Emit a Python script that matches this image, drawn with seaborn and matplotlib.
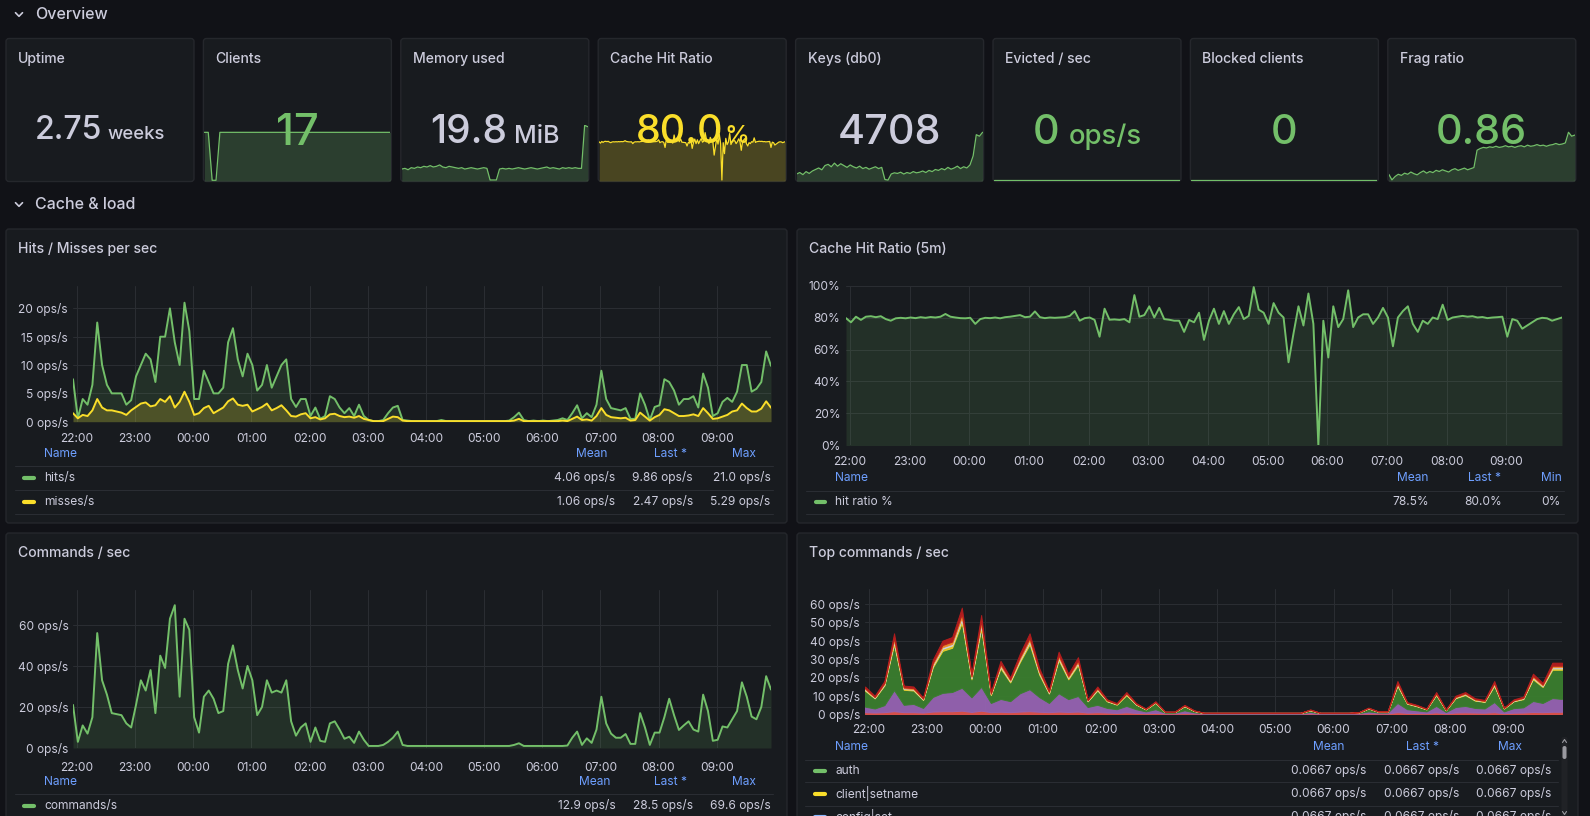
import numpy as np
import pandas as pd
import matplotlib
matplotlib.use("Agg")
import matplotlib.pyplot as plt
import matplotlib.dates as mdates
from matplotlib.patches import FancyBboxPatch
import seaborn as sns

# ---------------------------------------------------------------- data
# 5-minute samples, 21:56 -> 09:56
HITS = [
    7.5, 0.6, 4.0, 3.0, 6.5, 17.5, 10.0, 6.5, 5.0, 5.0,
    5.0, 3.0, 3.8, 8.0, 10.0, 12.0, 11.0, 7.0, 15.0, 15.0,
    20.0, 14.0, 10.0, 21.0, 16.0, 4.0, 4.0, 9.0, 7.0, 5.0,
    5.0, 6.0, 14.0, 16.5, 11.0, 8.0, 12.0, 10.0, 5.5, 6.5,
    10.0, 6.0, 8.0, 10.0, 11.0, 4.0, 2.6, 4.0, 4.0, 1.0,
    2.5, 0.5, 1.0, 4.5, 4.0, 2.5, 1.5, 2.4, 1.0, 3.0,
    1.0, 0.3, 0.1, 0.1, 0.3, 1.5, 2.5, 2.8, 0.3, 0.2,
    0.1, 0.1, 0.1, 0.1, 0.1, 0.1, 0.3, 0.1, 0.1, 0.1,
    0.1, 0.1, 0.1, 0.1, 0.1, 0.1, 0.1, 0.1, 0.1, 0.1,
    0.2, 0.8, 1.6, 0.3, 0.1, 0.2, 0.1, 0.2, 0.1, 0.2,
    0.3, 0.6, 0.3, 1.5, 2.9, 0.6, 1.5, 0.8, 3.0, 9.0,
    4.0, 2.4, 2.2, 2.0, 2.4, 0.5, 0.5, 5.0, 3.0, 0.3,
    2.6, 2.9, 7.5, 7.0, 5.5, 3.0, 4.0, 4.0, 4.5, 2.5,
    8.5, 6.0, 1.0, 1.5, 3.5, 4.2, 3.5, 5.3, 10.0, 10.0,
    5.3, 5.8, 7.0, 12.4, 9.86]
MISSES = [
    1.5, 0.6, 1.2, 1.0, 2.0, 4.0, 2.5, 2.0, 2.0, 1.8,
    1.6, 1.2, 2.0, 2.6, 3.2, 3.4, 2.7, 2.9, 4.0, 3.5,
    4.5, 2.5, 3.5, 5.29, 3.5, 1.2, 1.5, 2.4, 2.8, 1.5,
    2.0, 2.5, 3.6, 4.1, 3.0, 2.8, 3.0, 1.8, 2.2, 2.6,
    3.2, 2.0, 2.4, 2.9, 2.0, 1.0, 0.9, 1.3, 1.5, 0.6,
    0.8, 0.4, 0.6, 1.3, 1.4, 1.0, 0.8, 0.9, 0.7, 1.0,
    0.5, 0.3, 0.1, 0.1, 0.1, 0.5, 0.9, 0.8, 0.2, 0.1,
    0.1, 0.1, 0.1, 0.1, 0.1, 0.1, 0.1, 0.1, 0.1, 0.1,
    0.1, 0.1, 0.1, 0.1, 0.1, 0.1, 0.1, 0.1, 0.1, 0.1,
    0.1, 0.2, 0.5, 0.1, 0.1, 0.1, 0.1, 0.1, 0.1, 0.1,
    0.1, 0.2, 0.1, 0.5, 0.9, 0.3, 0.4, 0.2, 1.0, 2.4,
    1.2, 0.8, 0.7, 0.6, 0.7, 0.2, 0.3, 1.6, 0.9, 0.2,
    0.8, 1.2, 2.2, 2.0, 1.5, 1.0, 1.0, 1.1, 1.3, 1.0,
    2.4, 1.5, 0.5, 0.6, 0.9, 1.2, 1.8, 2.0, 3.2, 2.4,
    1.8, 1.8, 2.3, 3.6, 2.47]
HIT_RATIO = [
    79.6, 77.0, 80.5, 78.5, 80.5, 80.8, 80.2, 80.8, 79.0, 78.0,
    79.5, 79.8, 79.5, 80.0, 79.6, 80.2, 79.8, 80.3, 80.0, 80.5,
    82.2, 80.5, 80.0, 79.6, 79.5, 79.8, 76.0, 79.0, 79.8, 79.6,
    80.0, 79.5, 80.2, 80.5, 81.0, 81.5, 80.2, 80.5, 83.8, 80.2,
    79.6, 80.0, 79.8, 80.0, 80.2, 81.0, 84.0, 78.0, 79.6, 80.0,
    78.5, 68.0, 85.5, 78.6, 78.8, 78.5, 79.0, 77.0, 94.0, 80.5,
    81.5, 87.0, 80.0, 86.0, 79.0, 78.6, 78.0, 78.0, 71.0, 78.5,
    77.0, 83.0, 66.0, 78.0, 85.5, 76.0, 84.0, 76.0, 82.0, 86.5,
    79.0, 81.0, 99.0, 84.9, 83.0, 76.0, 89.0, 83.0, 80.0, 52.0,
    70.0, 87.0, 75.0, 95.0, 76.0, 0.0, 78.0, 55.0, 87.0, 74.0,
    79.0, 97.0, 74.0, 80.0, 82.0, 82.0, 76.0, 80.0, 86.0, 80.0,
    62.0, 80.0, 84.0, 87.0, 76.0, 71.0, 78.0, 76.0, 80.0, 79.0,
    88.0, 78.5, 80.0, 80.5, 81.0, 80.5, 80.8, 80.0, 80.3, 79.6,
    80.0, 80.2, 80.5, 68.0, 79.0, 78.0, 73.0, 75.0, 77.0, 79.0,
    79.8, 79.5, 78.0, 79.0, 80.0]
COMMANDS = [
    21.0, 3.0, 11.0, 7.0, 15.0, 56.0, 33.0, 26.0, 17.0, 16.5,
    16.0, 12.0, 10.0, 21.0, 33.0, 28.0, 38.0, 17.0, 45.0, 39.0,
    63.0, 69.6, 25.0, 63.0, 57.6, 15.0, 7.5, 25.0, 28.0, 24.0,
    17.0, 18.0, 41.0, 50.0, 38.0, 29.0, 40.0, 33.0, 16.0, 20.0,
    33.0, 27.0, 28.0, 27.0, 33.0, 13.0, 6.0, 10.0, 12.0, 3.0,
    10.0, 3.5, 3.0, 12.0, 13.0, 9.0, 4.5, 5.5, 2.5, 8.0,
    4.0, 1.0, 1.0, 1.0, 1.5, 3.0, 5.0, 8.0, 1.5, 1.0,
    1.0, 1.0, 1.0, 1.0, 1.0, 1.0, 1.0, 1.0, 1.0, 1.0,
    1.0, 1.0, 1.0, 1.0, 1.0, 1.0, 1.0, 1.0, 1.0, 1.0,
    1.0, 1.5, 2.3, 1.0, 1.0, 1.0, 1.0, 1.0, 1.0, 1.0,
    1.0, 1.0, 1.2, 5.0, 8.0, 1.5, 4.7, 2.5, 9.0, 25.0,
    12.0, 7.0, 5.0, 5.0, 6.8, 2.0, 2.0, 17.0, 10.0, 1.5,
    7.5, 7.5, 15.0, 24.0, 16.0, 8.8, 11.0, 13.0, 9.0, 8.0,
    26.0, 18.0, 3.5, 4.0, 10.5, 10.0, 14.0, 18.0, 32.0, 25.0,
    15.3, 14.0, 20.0, 35.0, 28.5]

# 10-minute samples of the stacked "Top commands" layers (bottom -> top)
TOP_BASE = [
    1.0, 0.8, 1.0, 1.5, 1.0, 1.0, 0.8, 1.3, 1.5, 1.5,
    1.8, 1.1, 1.8, 1.0, 1.2, 1.0, 1.3, 1.5, 1.2, 1.0,
    1.3, 1.1, 1.3, 0.8, 1.0, 0.8, 0.6, 0.9, 0.6, 0.4,
    0.6, 0.3, 0.3, 0.5, 0.3, 0.2, 0.2, 0.2, 0.2, 0.2,
    0.2, 0.2, 0.2, 0.2, 0.2, 0.2, 0.3, 0.2, 0.2, 0.2,
    0.2, 0.2, 0.4, 0.3, 0.3, 1.0, 0.6, 0.5, 0.4, 0.9,
    0.3, 0.8, 0.9, 0.8, 0.7, 1.0, 0.4, 0.7, 0.8, 1.1,
    1.0, 1.2, 1.2]
TOP_PURPLE = [
    3.0, 2.2, 3.8, 11.5, 4.0, 4.5, 2.5, 8.0, 10.0, 10.5,
    12.5, 8.0, 13.0, 5.0, 7.0, 6.0, 10.0, 12.0, 8.0, 5.0,
    10.0, 7.0, 8.5, 3.0, 4.0, 2.5, 2.0, 3.5, 2.0, 1.0,
    2.0, 0.4, 0.4, 1.5, 0.6, 0.2, 0.2, 0.2, 0.2, 0.2,
    0.2, 0.2, 0.2, 0.2, 0.2, 0.2, 0.8, 0.2, 0.2, 0.2,
    0.2, 0.3, 1.0, 0.5, 0.5, 5.0, 2.0, 1.5, 1.0, 3.5,
    0.8, 3.0, 3.5, 2.5, 2.3, 5.5, 1.0, 2.5, 2.8, 6.0,
    5.0, 7.5, 7.0]
TOP_GREEN = [
    8.7, 5.5, 10.7, 24.9, 8.2, 7.3, 4.3, 16.1, 22.9, 24.1,
    35.4, 9.8, 31.7, 4.3, 16.7, 10.2, 17.0, 24.4, 12.2, 5.1,
    18.0, 10.8, 16.9, 3.1, 7.8, 3.6, 2.5, 5.9, 2.5, 1.1,
    3.5, 0.35, 0.35, 2.2, 0.7, 0.15, 0.15, 0.15, 0.15, 0.15,
    0.15, 0.15, 0.15, 0.15, 0.15, 0.15, 0.9, 0.15, 0.15, 0.15,
    0.15, 0.25, 1.6, 0.45, 0.45, 9.3, 3.0, 2.2, 1.1, 5.9,
    0.9, 4.8, 5.9, 4.0, 3.6, 8.8, 1.6, 3.7, 4.5, 11.8,
    8.7, 15.4, 15.9]
TOP_YELLOW = [
    0.5, 0.3, 0.5, 1.3, 0.5, 0.5, 0.3, 0.9, 1.2, 1.3,
    1.8, 0.7, 1.6, 0.4, 0.9, 0.6, 1.0, 1.3, 0.8, 0.4,
    1.0, 0.7, 0.9, 0.2, 0.5, 0.2, 0.2, 0.4, 0.2, 0.1,
    0.2, 0.05, 0.05, 0.2, 0.1, 0.03, 0.03, 0.03, 0.03, 0.03,
    0.03, 0.03, 0.03, 0.03, 0.03, 0.03, 0.1, 0.03, 0.03, 0.03,
    0.03, 0.05, 0.1, 0.05, 0.05, 0.6, 0.2, 0.2, 0.1, 0.4,
    0.1, 0.3, 0.4, 0.3, 0.2, 0.6, 0.1, 0.2, 0.3, 0.7,
    0.5, 0.8, 0.8]
TOP_BLUE = [
    0.3, 0.2, 0.4, 0.9, 0.3, 0.3, 0.2, 0.6, 0.8, 0.8,
    1.2, 0.4, 1.1, 0.2, 0.6, 0.4, 0.7, 0.9, 0.5, 0.3,
    0.7, 0.4, 0.6, 0.2, 0.3, 0.2, 0.1, 0.2, 0.1, 0.1,
    0.1, 0.05, 0.05, 0.1, 0.05, 0.03, 0.03, 0.03, 0.03, 0.03,
    0.03, 0.03, 0.03, 0.03, 0.03, 0.03, 0.1, 0.03, 0.03, 0.03,
    0.03, 0.05, 0.1, 0.05, 0.05, 0.4, 0.1, 0.1, 0.1, 0.2,
    0.1, 0.2, 0.2, 0.2, 0.2, 0.4, 0.1, 0.2, 0.2, 0.4,
    0.3, 0.6, 0.6]
TOP_ORANGE = [
    0.5, 0.3, 0.5, 1.3, 0.5, 0.5, 0.3, 0.9, 1.2, 1.3,
    1.8, 0.7, 1.6, 0.4, 0.9, 0.6, 1.0, 1.3, 0.8, 0.4,
    1.0, 0.7, 0.9, 0.2, 0.5, 0.2, 0.2, 0.4, 0.2, 0.1,
    0.2, 0.05, 0.05, 0.2, 0.1, 0.03, 0.03, 0.03, 0.03, 0.03,
    0.03, 0.03, 0.03, 0.03, 0.03, 0.03, 0.1, 0.03, 0.03, 0.03,
    0.03, 0.05, 0.1, 0.05, 0.05, 0.6, 0.2, 0.2, 0.1, 0.4,
    0.1, 0.3, 0.4, 0.3, 0.2, 0.6, 0.1, 0.2, 0.3, 0.7,
    0.5, 0.8, 0.8]
TOP_RED = [
    1.0, 0.7, 1.1, 2.6, 1.0, 0.9, 0.6, 1.8, 2.4, 2.5,
    3.5, 1.3, 3.2, 0.7, 1.7, 1.2, 2.0, 2.6, 1.5, 0.8,
    2.0, 1.3, 1.9, 0.5, 0.9, 0.5, 0.4, 0.7, 0.4, 0.2,
    0.4, 0.1, 0.1, 0.3, 0.15, 0.06, 0.06, 0.06, 0.06, 0.06,
    0.06, 0.06, 0.06, 0.06, 0.06, 0.06, 0.2, 0.06, 0.06, 0.06,
    0.06, 0.1, 0.2, 0.1, 0.1, 1.1, 0.4, 0.3, 0.2, 0.7,
    0.2, 0.6, 0.7, 0.5, 0.5, 1.1, 0.2, 0.5, 0.6, 1.3,
    1.0, 1.7, 1.7]

# stat panels
STAT_TITLES = ["Uptime", "Clients", "Memory used", "Cache Hit Ratio",
               "Keys (db0)", "Evicted / sec", "Blocked clients", "Frag ratio"]
STAT_VALUES = ["2.75", "17", "19.8", "80.0", "4708", "0", "0", "0.86"]
STAT_UNITS = ["weeks", "", "MiB", "%", "", "ops/s", "", ""]

CLIENTS_SPARK = [17, 17, 0, 0, 17, 17, 17, 17, 17, 17, 17, 17, 17, 17, 17, 17, 17,
                 17, 17, 17, 17, 17, 17, 17, 17, 17, 17, 17, 17, 17, 17, 17, 17,
                 17, 17, 17, 17, 17, 17, 17, 17, 17, 17, 17, 17, 17, 17, 17, 17]
MEMORY_SPARK = [19.16, 19.17, 19.15, 19.18, 19.17, 19.19, 19.18, 19.20, 19.19, 19.21,
                19.19, 19.20, 19.22, 19.19, 19.18, 19.20, 19.19, 19.18, 19.17, 19.18,
                19.16, 19.17, 19.18, 19.17, 19.16, 19.17, 19.18, 19.17, 19.00, 19.00,
                19.00, 19.16, 19.17, 19.16, 19.17, 19.16, 19.17, 19.18, 19.17, 19.16,
                19.17, 19.18, 19.17, 19.16, 19.17, 19.18, 19.19, 19.17, 19.18, 19.17,
                19.16, 19.18, 19.17, 19.18, 19.17, 19.18, 19.17, 19.17, 19.80, 19.78]
KEYS_SPARK = [4570, 4575, 4568, 4578, 4572, 4580, 4585, 4590, 4584, 4598,
              4602, 4594, 4606, 4596, 4604, 4598, 4592, 4600, 4594, 4590,
              4596, 4588, 4592, 4586, 4590, 4594, 4588, 4592, 4552, 4550,
              4570, 4574, 4572, 4576, 4570, 4575, 4572, 4578, 4574, 4576,
              4580, 4575, 4582, 4578, 4585, 4582, 4588, 4584, 4592, 4586,
              4590, 4596, 4588, 4594, 4590, 4600, 4630, 4700, 4695, 4708]
EVICTED_SPARK = [0, 0, 0, 0, 0, 0, 0, 0, 0, 0, 0, 0]
BLOCKED_SPARK = [0, 0, 0, 0, 0, 0, 0, 0, 0, 0, 0, 0]
FRAG_SPARK = [0.790, 0.780, 0.786, 0.790, 0.788, 0.792, 0.790, 0.794, 0.791, 0.789,
              0.793, 0.796, 0.792, 0.795, 0.793, 0.797, 0.795, 0.798, 0.796, 0.794,
              0.798, 0.800, 0.797, 0.799, 0.801, 0.798, 0.800, 0.802, 0.833, 0.836,
              0.838, 0.837, 0.839, 0.838, 0.840, 0.838, 0.839, 0.841, 0.839, 0.840,
              0.838, 0.840, 0.841, 0.839, 0.842, 0.840, 0.841, 0.843, 0.841, 0.842,
              0.840, 0.842, 0.843, 0.845, 0.843, 0.844, 0.846, 0.865, 0.858, 0.860]

# legend tables
HITS_LEG_NAMES = ["hits/s", "misses/s"]
HITS_LEG_MEAN = ["4.06 ops/s", "1.06 ops/s"]
HITS_LEG_LAST = ["9.86 ops/s", "2.47 ops/s"]
HITS_LEG_MAX = ["21.0 ops/s", "5.29 ops/s"]
RATIO_LEG = ["hit ratio %", "78.5%", "80.0%", "0%"]
CMD_LEG = ["commands/s", "12.9 ops/s", "28.5 ops/s", "69.6 ops/s"]
TOP_LEG_NAMES = ["auth", "client|setname", "config|set"]
TOP_LEG_MEAN = ["0.0667 ops/s", "0.0667 ops/s", "0.0667 ops/s"]
TOP_LEG_LAST = ["0.0667 ops/s", "0.0667 ops/s", "0.0667 ops/s"]
TOP_LEG_MAX = ["0.0667 ops/s", "0.0667 ops/s", "0.0667 ops/s"]

# ---------------------------------------------------------------- style
W, H = 1590, 816
BG = "#111217"
PANEL = "#181b1f"
BORDER = "#25272c"
TEXT = "#ccccdc"
GRID = "#2a2d32"
BLUE = "#6e9fff"
GREEN = "#73bf69"
YELLOW = "#fade2a"

sns.set_theme(style="dark")
plt.rcParams["font.family"] = ["Inter", "DejaVu Sans"]
plt.rcParams["axes.unicode_minus"] = False

t_start = pd.Timestamp("2024-01-01 21:56")
t_end = pd.Timestamp("2024-01-02 09:56")
T5 = mdates.date2num(pd.date_range(t_start, periods=len(HITS), freq="5min").to_pydatetime())
T10 = mdates.date2num(pd.date_range(t_start, periods=len(TOP_GREEN), freq="10min").to_pydatetime())
XLIM = (mdates.date2num(t_start.to_pydatetime()), mdates.date2num(t_end.to_pydatetime()))

fig = plt.figure(figsize=(W / 100, H / 100), dpi=100, facecolor=BG)
bg = fig.add_axes([0, 0, 1, 1])
bg.set_xlim(0, W); bg.set_ylim(H, 0); bg.axis("off")


def panel(x0, y0, x1, y1):
    bg.add_patch(FancyBboxPatch((x0, y0), x1 - x0, y1 - y0,
                                boxstyle="round,pad=0,rounding_size=3",
                                fc=PANEL, ec=BORDER, lw=1.0))


def px_axes(l, t, r, b):
    return fig.add_axes([l / W, 1 - b / H, (r - l) / W, (b - t) / H])


def style_ts(ax, ylim, yticks, ylabels, ypad, xpad):
    ax.set_facecolor("none")
    ax.set_xlim(*XLIM)
    ax.set_ylim(*ylim)
    ax.xaxis.set_major_locator(mdates.HourLocator())
    ax.xaxis.set_major_formatter(mdates.DateFormatter("%H:%M"))
    ax.set_yticks(yticks)
    ax.set_yticklabels(ylabels)
    ax.grid(True, color=GRID, linewidth=0.75)
    ax.set_axisbelow(True)
    for s in ax.spines.values():
        s.set_visible(False)
    ax.tick_params(axis="both", length=0, colors=TEXT, labelsize=8.6)
    ax.tick_params(axis="y", pad=ypad)
    ax.tick_params(axis="x", pad=xpad)
    ax.set_xlabel("")
    ax.set_ylabel("")


# ---------------------------------------------------------------- panels
STAT_L = [6 + 197.4 * k for k in range(8)]
for x0 in STAT_L:
    panel(x0, 38.5, x0 + 188, 181.5)
panel(6, 229, 787, 523)
panel(797, 229, 1578, 523)
panel(6, 533, 787, 840)
panel(797, 533, 1578, 840)

# ---------------------------------------------------------------- stat sparklines
SPARKS = [None, CLIENTS_SPARK, MEMORY_SPARK, HIT_RATIO, KEYS_SPARK,
          EVICTED_SPARK, BLOCKED_SPARK, FRAG_SPARK]
SPARK_COL = [None, GREEN, GREEN, YELLOW, GREEN, GREEN, GREEN, GREEN]
SPARK_LIM = [None, (-0.25, 19.6), (18.985, 19.805), (-2.1, 114.9), (4547, 4732),
             (-0.02, 1.0), (-0.02, 1.0), (0.778, 0.878)]
for k in range(1, 8):
    x0 = STAT_L[k]
    sax = px_axes(x0 + 1, 125, x0 + 187, 181)
    vals = np.array(SPARKS[k], dtype=float)
    xs = np.arange(len(vals))
    sns.lineplot(x=xs, y=vals, ax=sax, color=SPARK_COL[k], linewidth=0.9)
    sax.fill_between(xs, vals, SPARK_LIM[k][0], color=SPARK_COL[k], alpha=0.22, lw=0)
    sax.set_xlim(0, len(vals) - 1)
    sax.set_ylim(*SPARK_LIM[k])
    sax.axis("off")

# ---------------------------------------------------------------- Hits / Misses
ax1 = px_axes(73, 285.7, 771, 421.7)
sns.lineplot(x=T5, y=HITS, ax=ax1, color=GREEN, linewidth=1.4)
sns.lineplot(x=T5, y=MISSES, ax=ax1, color=YELLOW, linewidth=1.4)
ax1.fill_between(T5, HITS, 0, color=GREEN, alpha=0.13, lw=0)
ax1.fill_between(T5, MISSES, 0, color=YELLOW, alpha=0.2, lw=0)
style_ts(ax1, (0, 24), [0, 5, 10, 15, 20],
         ["0 ops/s", "5 ops/s", "10 ops/s", "15 ops/s", "20 ops/s"], 3.6, 7.8)

# ---------------------------------------------------------------- Cache hit ratio
ax2 = px_axes(846, 285.5, 1562, 445.5)
sns.lineplot(x=T5, y=HIT_RATIO, ax=ax2, color=GREEN, linewidth=1.4)
ax2.fill_between(T5, HIT_RATIO, 0, color=GREEN, alpha=0.13, lw=0)
style_ts(ax2, (0, 100), [0, 20, 40, 60, 80, 100],
         ["0%", "20%", "40%", "60%", "80%", "100%"], 4.0, 7.3)

# ---------------------------------------------------------------- Commands
ax3 = px_axes(73, 590, 771, 748)
sns.lineplot(x=T5, y=COMMANDS, ax=ax3, color=GREEN, linewidth=1.4)
ax3.fill_between(T5, COMMANDS, 0, color=GREEN, alpha=0.13, lw=0)
style_ts(ax3, (0, 77), [0, 20, 40, 60],
         ["0 ops/s", "20 ops/s", "40 ops/s", "60 ops/s"], 3.1, 9.8)

# ---------------------------------------------------------------- Top commands (stacked)
ax4 = px_axes(865, 589.3, 1562, 714)
STACK_COLORS = ["#e0524b", "#9663b3", "#3a7e2e", "#e8cf2c", "#c9d4f2", "#f08c2a", "#b51d1d"]
polys = ax4.stackplot(T10, TOP_BASE, TOP_PURPLE, TOP_GREEN, TOP_YELLOW, TOP_BLUE,
                      TOP_ORANGE, TOP_RED, colors=STACK_COLORS, alpha=0.95)
for p, c in zip(polys, STACK_COLORS):
    p.set_edgecolor(c)
    p.set_linewidth(0.7)
style_ts(ax4, (0, 68), [0, 10, 20, 30, 40, 50, 60],
         ["0 ops/s", "10 ops/s", "20 ops/s", "30 ops/s", "40 ops/s", "50 ops/s", "60 ops/s"],
         3.6, 7.2)

# ---------------------------------------------------------------- overlay text
ov = fig.add_axes([0, 0, 1, 1])
ov.set_xlim(0, W); ov.set_ylim(H, 0); ov.axis("off"); ov.set_facecolor("none")

PX = 0.72  # points per pixel


def txt(x, y, s, size_px, color=TEXT, ha="left", va="center", weight="normal"):
    return ov.text(x, y, s, fontsize=size_px * PX, color=color, ha=ha, va=va,
                   fontweight=weight)


def chevron(x, y):
    ov.plot([x - 3.5, x, x + 3.5], [y - 1.8, y + 1.8, y - 1.8], color=TEXT, lw=1.2,
            solid_capstyle="round", solid_joinstyle="round")


chevron(19, 14.5)
txt(35, 14.5, "Overview", 16, weight="medium")
chevron(19, 204.5)
txt(35, 204.5, "Cache & load", 16, weight="medium")

for k in range(8):
    txt(STAT_L[k] + 12, 59, STAT_TITLES[k], 14, weight="medium")

txt(18, 249, "Hits / Misses per sec", 14, weight="medium")
txt(809, 249, "Cache Hit Ratio (5m)", 14, weight="medium")
txt(18, 553, "Commands / sec", 14, weight="medium")
txt(809, 553, "Top commands / sec", 14, weight="medium")

# stat values
STAT_COLORS = [TEXT, GREEN, TEXT, YELLOW, TEXT, GREEN, GREEN, GREEN]
VAL_PX = [32.0, 43.5, 39.0, 39.5, 41.3, 41.3, 41.3, 41.3]
UNIT_PX = [18.5, 0, 25.0, 25.0, 0, 27.5, 0, 0]
BASE_Y = [139.0, 145.0, 142.7, 142.7, 144.3, 144.3, 144.3, 144.3]
GAPS = [5, 0, 7, 1, 0, 9, 0, 0]
renderer = fig.canvas.get_renderer()
for k in range(8):
    cx = STAT_L[k] + 94
    tv = ov.text(cx, BASE_Y[k], STAT_VALUES[k], fontsize=VAL_PX[k] * PX,
                 color=STAT_COLORS[k], ha="left", va="baseline", fontweight="medium")
    if STAT_UNITS[k]:
        tu = ov.text(cx, BASE_Y[k], STAT_UNITS[k], fontsize=UNIT_PX[k] * PX,
                     color=STAT_COLORS[k], ha="left", va="baseline", fontweight="medium")
        wv = tv.get_window_extent(renderer).width
        wu = tu.get_window_extent(renderer).width
        x0 = cx - (wv + GAPS[k] + wu) / 2
        tv.set_x(x0)
        tu.set_x(x0 + wv + GAPS[k])
    else:
        tv.set_ha("center")


def sep(x0, x1, y):
    ov.plot([x0, x1], [y, y], color="#2a2d33", lw=0.75)


def marker(x0, x1, y, c):
    ov.plot([x0 + 2, x1 - 2], [y, y], color=c, lw=3.0, solid_capstyle="round")


# Hits legend
txt(44, 453.7, "Name", 12, color=BLUE)
for cxh, lab in zip([592, 671, 743.5], ["Mean", "Last *", "Max"]):
    txt(cxh, 453.7, lab, 12, color=BLUE, ha="center")
for y in [466, 490, 514]:
    sep(15, 773, y)
for i, (y, c) in enumerate(zip([477.7, 501.7], [GREEN, YELLOW])):
    marker(22, 36, y, c)
    txt(44, y, HITS_LEG_NAMES[i], 12)
    txt(615, y, HITS_LEG_MEAN[i], 12, ha="right")
    txt(693, y, HITS_LEG_LAST[i], 12, ha="right")
    txt(770.6, y, HITS_LEG_MAX[i], 12, ha="right")

# Hit ratio legend
txt(835, 477.7, "Name", 12, color=BLUE)
for cxh, lab in zip([1413, 1485, 1551], ["Mean", "Last *", "Min"]):
    txt(cxh, 477.7, lab, 12, color=BLUE, ha="center")
for y in [490.7, 514.3]:
    sep(806, 1564, y)
marker(813.6, 826.5, 501.7, GREEN)
txt(835, 501.7, RATIO_LEG[0], 12)
for xr, v in zip([1429, 1501.6, 1560.5], RATIO_LEG[1:]):
    txt(xr, 501.7, v, 12, ha="right")

# Commands legend
txt(44, 781.7, "Name", 12, color=BLUE)
for cxh, lab in zip([595, 671, 743.8], ["Mean", "Last *", "Max"]):
    txt(cxh, 781.7, lab, 12, color=BLUE, ha="center")
sep(15, 773, 794.3)
marker(22, 36, 806, GREEN)
txt(44, 806, CMD_LEG[0], 12)
for xr, v in zip([615.4, 693, 770.6], CMD_LEG[1:]):
    txt(xr, 806, v, 12, ha="right")

# Top commands legend (third row is cut by the bottom edge, as in the dashboard)
txt(835, 746.7, "Name", 12, color=BLUE)
for cxh, lab in zip([1329, 1422, 1510], ["Mean", "Last *", "Max"]):
    txt(cxh, 746.7, lab, 12, color=BLUE, ha="center")
for y in [759.7, 782.3, 806]:
    sep(805, 1558, y)
for i, (y, c) in enumerate(zip([770.7, 793.7, 816.7], [GREEN, YELLOW, "#8ab8ff"])):
    marker(812.5, 826.5, y, c)
    txt(835, y, TOP_LEG_NAMES[i], 12)
    txt(1366.8, y, TOP_LEG_MEAN[i], 12, ha="right")
    txt(1459, y, TOP_LEG_LAST[i], 12, ha="right")
    txt(1551.7, y, TOP_LEG_MAX[i], 12, ha="right")

# scrollbar
ov.add_patch(FancyBboxPatch((1561.5, 737), 6, 80, boxstyle="round,pad=0,rounding_size=2",
                            fc="#202226", ec="none"))
ov.add_patch(FancyBboxPatch((1562.5, 746), 4, 13, boxstyle="round,pad=0,rounding_size=2",
                            fc="#9a9aa0", ec="none"))
ov.plot([1562.5, 1564.5, 1566.5], [742.5, 739.5, 742.5], color="#9a9aa0", lw=0.8)
ov.plot([1562.5, 1564.5, 1566.5], [811.5, 814.5, 811.5], color="#9a9aa0", lw=0.8)

fig.savefig("out.png", dpi=100, facecolor=BG)
